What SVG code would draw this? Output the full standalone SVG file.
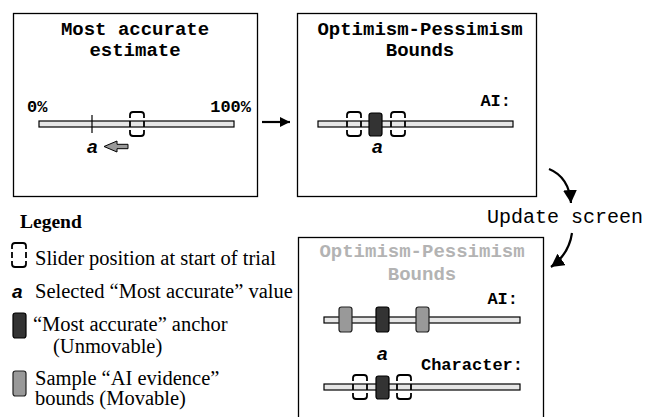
<svg xmlns="http://www.w3.org/2000/svg" xmlns:xlink="http://www.w3.org/1999/xlink" width="647" height="417" viewBox="0 0 647 417">
<style>
.panel{fill:#fff;stroke:#000;stroke-width:1.3}
.title{font-family:"Liberation Mono","Courier New",monospace;font-weight:bold;font-size:19px;text-anchor:middle;fill:#000}
.title.dim{fill:#b3b3b3}
.lbl{font-family:"Liberation Mono","Courier New",monospace;font-weight:bold;font-size:17px;fill:#000}
.track{fill:#e6e6e6;stroke:#000;stroke-width:1.2}
.dash{fill:none;stroke:#000;stroke-width:1.8;stroke-linecap:butt}
.anchor{fill:#333;stroke:#000;stroke-width:1.2}
.sample{fill:#999;stroke:#222;stroke-width:1.2}
.a{font-family:"Liberation Sans",Arial,sans-serif;font-weight:bold;font-style:italic;font-size:19px;fill:#000}
.leg{font-family:"Liberation Serif","Times New Roman",serif;font-size:20.5px;fill:#000}
.conn{fill:none;stroke:#000;stroke-width:2.2}
.upd{font-family:"Liberation Mono","Courier New",monospace;font-size:20px;fill:#000}
</style>
<defs>
<path id="bracket" class="dash" d="M0.5,6.5 V3.5 Q0.5,0.5 3.5,0.5 H11.5 Q14.5,0.5 14.5,3.5 V6.5 M0.5,9.5 V15.5 M14.5,9.5 V15.5 M0.5,18.5 V21.5 Q0.5,24.5 3.5,24.5 H11.5 Q14.5,24.5 14.5,21.5 V18.5"/>
<marker id="ah" markerUnits="userSpaceOnUse" markerWidth="10" markerHeight="10" refX="10" refY="5" orient="auto"><path d="M0,0 L10,5 L0,10 z" fill="#000"/></marker>
<marker id="ah2" markerUnits="userSpaceOnUse" markerWidth="14" markerHeight="14" refX="13" refY="7" orient="auto"><path d="M0,0 L13,7 L0,14 z" fill="#000"/></marker>
</defs>

<g id="panel-most-accurate">
<rect class="panel" x="13.5" y="13.5" width="244" height="183"/>
<text class="title" x="135" y="35">Most accurate</text>
<text class="title" x="135" y="56">estimate</text>
<text class="lbl" x="27" y="112">0%</text>
<text class="lbl" x="251" y="112" text-anchor="end">100%</text>
<rect class="track" x="39" y="121" width="195" height="6"/>
<line x1="92" y1="115" x2="92" y2="133" stroke="#000" stroke-width="1.2"/>
<use xlink:href="#bracket" x="129.5" y="111.5"/>
<text class="a" x="87" y="153">a</text>
<polygon points="104,146.5 117,141 117,144.3 128,144.3 128,148.7 117,148.7 117,152" fill="#999" stroke="#000" stroke-width="1"/>
</g>

<g id="panel-bounds">
<rect class="panel" x="297.5" y="13.5" width="239" height="183"/>
<text class="title" x="420" y="35">Optimism-Pessimism</text>
<text class="title" x="420" y="56">Bounds</text>
<text class="lbl" x="511" y="106" text-anchor="end">AI:</text>
<rect class="track" x="318" y="121" width="195" height="6"/>
<use xlink:href="#bracket" x="346.5" y="111.5"/>
<use xlink:href="#bracket" x="390.5" y="111.5"/>
<rect class="anchor" x="369" y="113" width="13" height="23" rx="2.5"/>
<text class="a" x="372" y="153">a</text>
</g>

<g id="panel-update">
<rect class="panel" x="298.5" y="237.5" width="245" height="200"/>
<text class="title dim" x="422" y="257">Optimism-Pessimism</text>
<text class="title dim" x="422" y="280">Bounds</text>
<text class="lbl" x="518" y="304" text-anchor="end">AI:</text>
<rect class="track" x="324" y="317" width="196" height="6"/>
<rect class="sample" x="339" y="307" width="13" height="25" rx="2.5"/>
<rect class="anchor" x="376" y="307" width="13" height="25" rx="2.5"/>
<rect class="sample" x="416" y="307" width="13" height="25" rx="2.5"/>
<text class="a" x="377" y="360">a</text>
<text class="lbl" x="523" y="370" text-anchor="end">Character:</text>
<rect class="track" x="324" y="384" width="196" height="6"/>
<use xlink:href="#bracket" x="352.5" y="374.5"/>
<use xlink:href="#bracket" x="396.5" y="374.5"/>
<rect class="anchor" x="376" y="376" width="13" height="23" rx="2.5"/>
</g>

<g id="connectors">
<line class="conn" x1="262" y1="122" x2="290" y2="122" marker-end="url(#ah)"/>
<path class="conn" d="M549,169 Q569,177 571,203" marker-end="url(#ah2)"/>
<path class="conn" d="M572,233 Q569,254 551,267" marker-end="url(#ah2)"/>
<text class="upd" x="487" y="223">Update screen</text>
</g>

<g id="legend">
<text x="20" y="228" font-family="'Liberation Serif','Times New Roman',serif" font-weight="bold" font-size="19.5px">Legend</text>
<use xlink:href="#bracket" x="11.5" y="242.5"/>
<text class="leg" x="35" y="265">Slider position at start of trial</text>
<text class="a" x="12" y="298" font-size="20px">a</text>
<text class="leg" x="35" y="298">Selected “Most accurate” value</text>
<rect class="anchor" x="13" y="313" width="13" height="25" rx="2.5"/>
<text class="leg" x="33" y="331">“Most accurate” anchor</text>
<text class="leg" x="53" y="353">(Unmovable)</text>
<rect class="sample" x="13" y="371" width="13" height="25" rx="2.5"/>
<text class="leg" x="35" y="385">Sample “AI evidence”</text>
<text class="leg" x="35" y="405">bounds (Movable)</text>
</g>
</svg>
